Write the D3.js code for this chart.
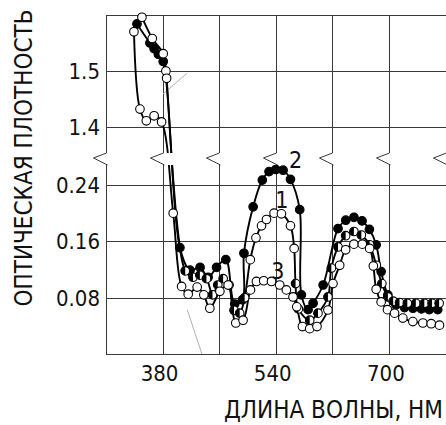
<!DOCTYPE html>
<html>
<head>
<meta charset="utf-8">
<script src="https://cdn.jsdelivr.net/npm/d3@7"></script>
<style>
  body { margin: 0; background: #fff; }
  text { font-family: "DejaVu Sans Condensed", "DejaVu Sans", sans-serif; fill: #111; }
</style>
</head>
<body>
<div id="scene"></div>
<script>
// wavelength (nm), optical density
var curve1 = [
  [350.8,1.596],[365.4,1.558],[380.9,1.531],[384.7,1.500],[385.7,1.487],
  [412,0.118],[423,0.109],[432.7,0.112],[442,0.107],[450.6,0.084],[458,0.098],[465.6,0.107],
  [474,0.098],[481,0.062],[489,0.058],[496,0.080],[504,0.134],[512,0.165],[519.9,0.182],
  [526.9,0.191],[537.6,0.200],[548,0.199],[560.8,0.182],[566,0.150],[568,0.100],[572,0.064],
  [588,0.048],[599.7,0.058],[613.8,0.081],[618.6,0.122],[628,0.152],[638.8,0.168],[650.5,0.174],
  [661,0.169],[672.7,0.155],[682.2,0.126],[690,0.100],[698.5,0.081],[706,0.075],[715,0.073],
  [726,0.072],[738,0.072],[750,0.072],[761,0.072],[771,0.072]
];
var curve2 = [
  [343.8,1.584],[362.1,1.550],[368,1.540],[374,1.530],[380.9,1.517],
  [404.5,0.151],[418.8,0.119],[433,0.123],[444.4,0.109],[456.3,0.123],[469.4,0.134],
  [482,0.071],[493,0.077],[495,0.143],[508,0.209],[521,0.247],[530.5,0.259],[540,0.262],
  [550.4,0.261],[560.8,0.248],[573.9,0.205],[576.3,0.084],[585.7,0.063],[592.8,0.072],
  [607,0.098],[628,0.178],[639,0.190],[650.6,0.194],[662,0.189],[672.4,0.177],[682,0.155],
  [689,0.117],[698.5,0.084],[710,0.070],[722,0.066],[734,0.065],[746,0.064],[757,0.063],[769,0.063]
];
var curve3 = [
  [339.5,1.570],[348,1.432],[357,1.411],[368,1.420],[378.6,1.409],
  [395,0.200],[406.9,0.096],[416.2,0.085],[428.9,0.095],[438.3,0.084],[446.8,0.065],[461,0.089],
  [472.7,0.098],[483.5,0.044],[493.8,0.048],[504.3,0.091],[512.7,0.103],[523,0.104],[534,0.103],
  [545.6,0.098],[555,0.091],[564.4,0.081],[569.7,0.067],[577.7,0.039],[588,0.036],[598.3,0.039],
  [613.8,0.0625],[620.9,0.100],[630.4,0.126],[638.8,0.148],[650.5,0.156],[662.4,0.156],[672.7,0.150],
  [678,0.125],[682,0.092],[689,0.074],[698,0.063],[708,0.058],[719.7,0.051],[733.8,0.046],
  [748,0.044],[759.8,0.043],[771.5,0.041]
];
var curveNames = ["1", "2", "3"];
var labelPos = [[548.5,0.219],[568,0.275],[542.8,0.118]];

var leaderTop = [[380.7,1.459],[414.7,1.496]];
var leaderBottom = [[415,0.0625],[435.6,0]];

var xGrid = [300,380,460,540,620,700,780];
var xTicks = [380,540,700];
var yTicksTop = [1.6,1.5,1.4];
var yTicksBottom = [0.24,0.16,0.08,0];
var yLabelsTop = ["1.5","1.4"];
var yLabelsBottom = ["0.24","0.16","0.08"];

var ctx = {
  w: 446, h: 425,
  left: 106, right: 445.5,
  breakTop: 153, breakBottom: 165
};

var x = d3.scaleLinear().domain([300,780]).range([ctx.left, ctx.right]);
var yTop = d3.scaleLinear().domain([1.4,1.6]).range([127,15]);
var yBot = d3.scaleLinear().domain([0,0.24]).range([354,185]);
var y = function(v) { return v > 1 ? yTop(v) : yBot(v); };

var svg = d3.select("#scene").append("svg")
  .attr("width", ctx.w).attr("height", ctx.h);

var defs = svg.append("defs");
defs.append("clipPath").attr("id", "clipTop").append("rect")
  .attr("x", 0).attr("y", 0).attr("width", ctx.w).attr("height", ctx.breakTop);
defs.append("clipPath").attr("id", "clipBot").append("rect")
  .attr("x", 0).attr("y", ctx.breakBottom).attr("width", ctx.w).attr("height", 360 - ctx.breakBottom);

// grid
var grid = svg.append("g").attr("stroke", "#3a3a3a").attr("stroke-width", 1).attr("fill", "none");
xGrid.forEach(function(d) {
  var xx = Math.round(x(d)) + 0.5;
  grid.append("line").attr("x1", xx).attr("x2", xx).attr("y1", yTop(1.6)).attr("y2", ctx.breakTop);
  grid.append("line").attr("x1", xx).attr("x2", xx).attr("y1", ctx.breakBottom).attr("y2", yBot(0));
  grid.append("path")
    .attr("d", "M" + xx + "," + ctx.breakTop + "L" + (xx - 13) + "," + (ctx.breakTop + 5) + "L" + (xx + 1) + "," + ctx.breakBottom);
});
yTicksTop.forEach(function(d) {
  var yy = Math.round(yTop(d)) + 0.5;
  grid.append("line").attr("x1", ctx.left).attr("x2", ctx.w).attr("y1", yy).attr("y2", yy);
});
yTicksBottom.forEach(function(d) {
  var yy = Math.round(yBot(d)) + 0.5;
  grid.append("line").attr("x1", ctx.left).attr("x2", ctx.w).attr("y1", yy).attr("y2", yy);
});

// thin grey leader lines
[leaderTop, leaderBottom].forEach(function(l) {
  svg.append("line")
    .attr("x1", x(l[0][0])).attr("y1", y(l[0][1]))
    .attr("x2", x(l[1][0])).attr("y2", y(l[1][1]))
    .attr("stroke", "#b0b0b0").attr("stroke-width", 1);
});

var line = d3.line()
  .x(function(d) { return x(d[0]); })
  .y(function(d) { return y(d[1]); })
  .curve(d3.curveCatmullRom.alpha(0.5));

var curves = [curve1, curve2, curve3];
curves.forEach(function(c) {
  ["clipTop", "clipBot"].forEach(function(cl) {
    svg.append("path")
      .datum(c)
      .attr("d", line)
      .attr("clip-path", "url(#" + cl + ")")
      .attr("fill", "none")
      .attr("stroke", "#000")
      .attr("stroke-width", 1.9);
  });
});

var r = 4.3;
var markerStyle = function(ci, d) {
  if (ci === 1) return "filled";
  if (ci === 2) return "open";
  if (d[0] < 390 || (d[0] >= 500 && d[0] <= 566)) return "open";
  return "half";
};

var drawMarkers = function(c, ci) {
  var g = svg.append("g");
  c.forEach(function(d) {
    var cx = x(d[0]), cy = y(d[1]);
    var st = markerStyle(ci, d);
    g.append("circle")
      .attr("cx", cx).attr("cy", cy).attr("r", r)
      .attr("fill", st === "filled" ? "#000" : "#fff")
      .attr("stroke", "#000").attr("stroke-width", 1.1);
    if (st === "half") {
      g.append("path")
        .attr("d", "M" + cx + "," + (cy - r) + "A" + r + "," + r + " 0 0 0 " + cx + "," + (cy + r) + "Z")
        .attr("fill", "#000");
    }
  });
};
// open ones go last so they sit on top like in the picture
drawMarkers(curve2, 1);
drawMarkers(curve1, 0);
drawMarkers(curve3, 2);

// curve labels
curveNames.forEach(function(n, i) {
  svg.append("text")
    .attr("x", x(labelPos[i][0])).attr("y", yBot(labelPos[i][1]) + 8)
    .attr("text-anchor", "middle")
    .style("font-size", "23px")
    .text(n);
});

// tick labels
yTicksTop.slice(1).forEach(function(d, i) {
  svg.append("text").attr("x", 100).attr("y", yTop(d) + 8)
    .attr("text-anchor", "end").style("font-size", "22px").text(yLabelsTop[i]);
});
yTicksBottom.slice(0, 3).forEach(function(d, i) {
  svg.append("text").attr("x", 100).attr("y", yBot(d) + 8)
    .attr("text-anchor", "end").style("font-size", "22px").text(yLabelsBottom[i]);
});
xTicks.forEach(function(d) {
  svg.append("text").attr("x", x(d) - 3).attr("y", 381)
    .attr("text-anchor", "middle").style("font-size", "22px").text(d);
});

// axis titles
svg.append("text")
  .attr("x", 443).attr("y", 418)
  .attr("text-anchor", "end")
  .style("font-size", "24px")
  .text("ДЛИНА ВОЛНЫ, НМ");

svg.append("text")
  .attr("transform", "translate(32,158) rotate(-90)")
  .attr("text-anchor", "middle")
  .style("font-size", "24px")
  .text("ОПТИЧЕСКАЯ ПЛОТНОСТЬ");
</script>
</body>
</html>
